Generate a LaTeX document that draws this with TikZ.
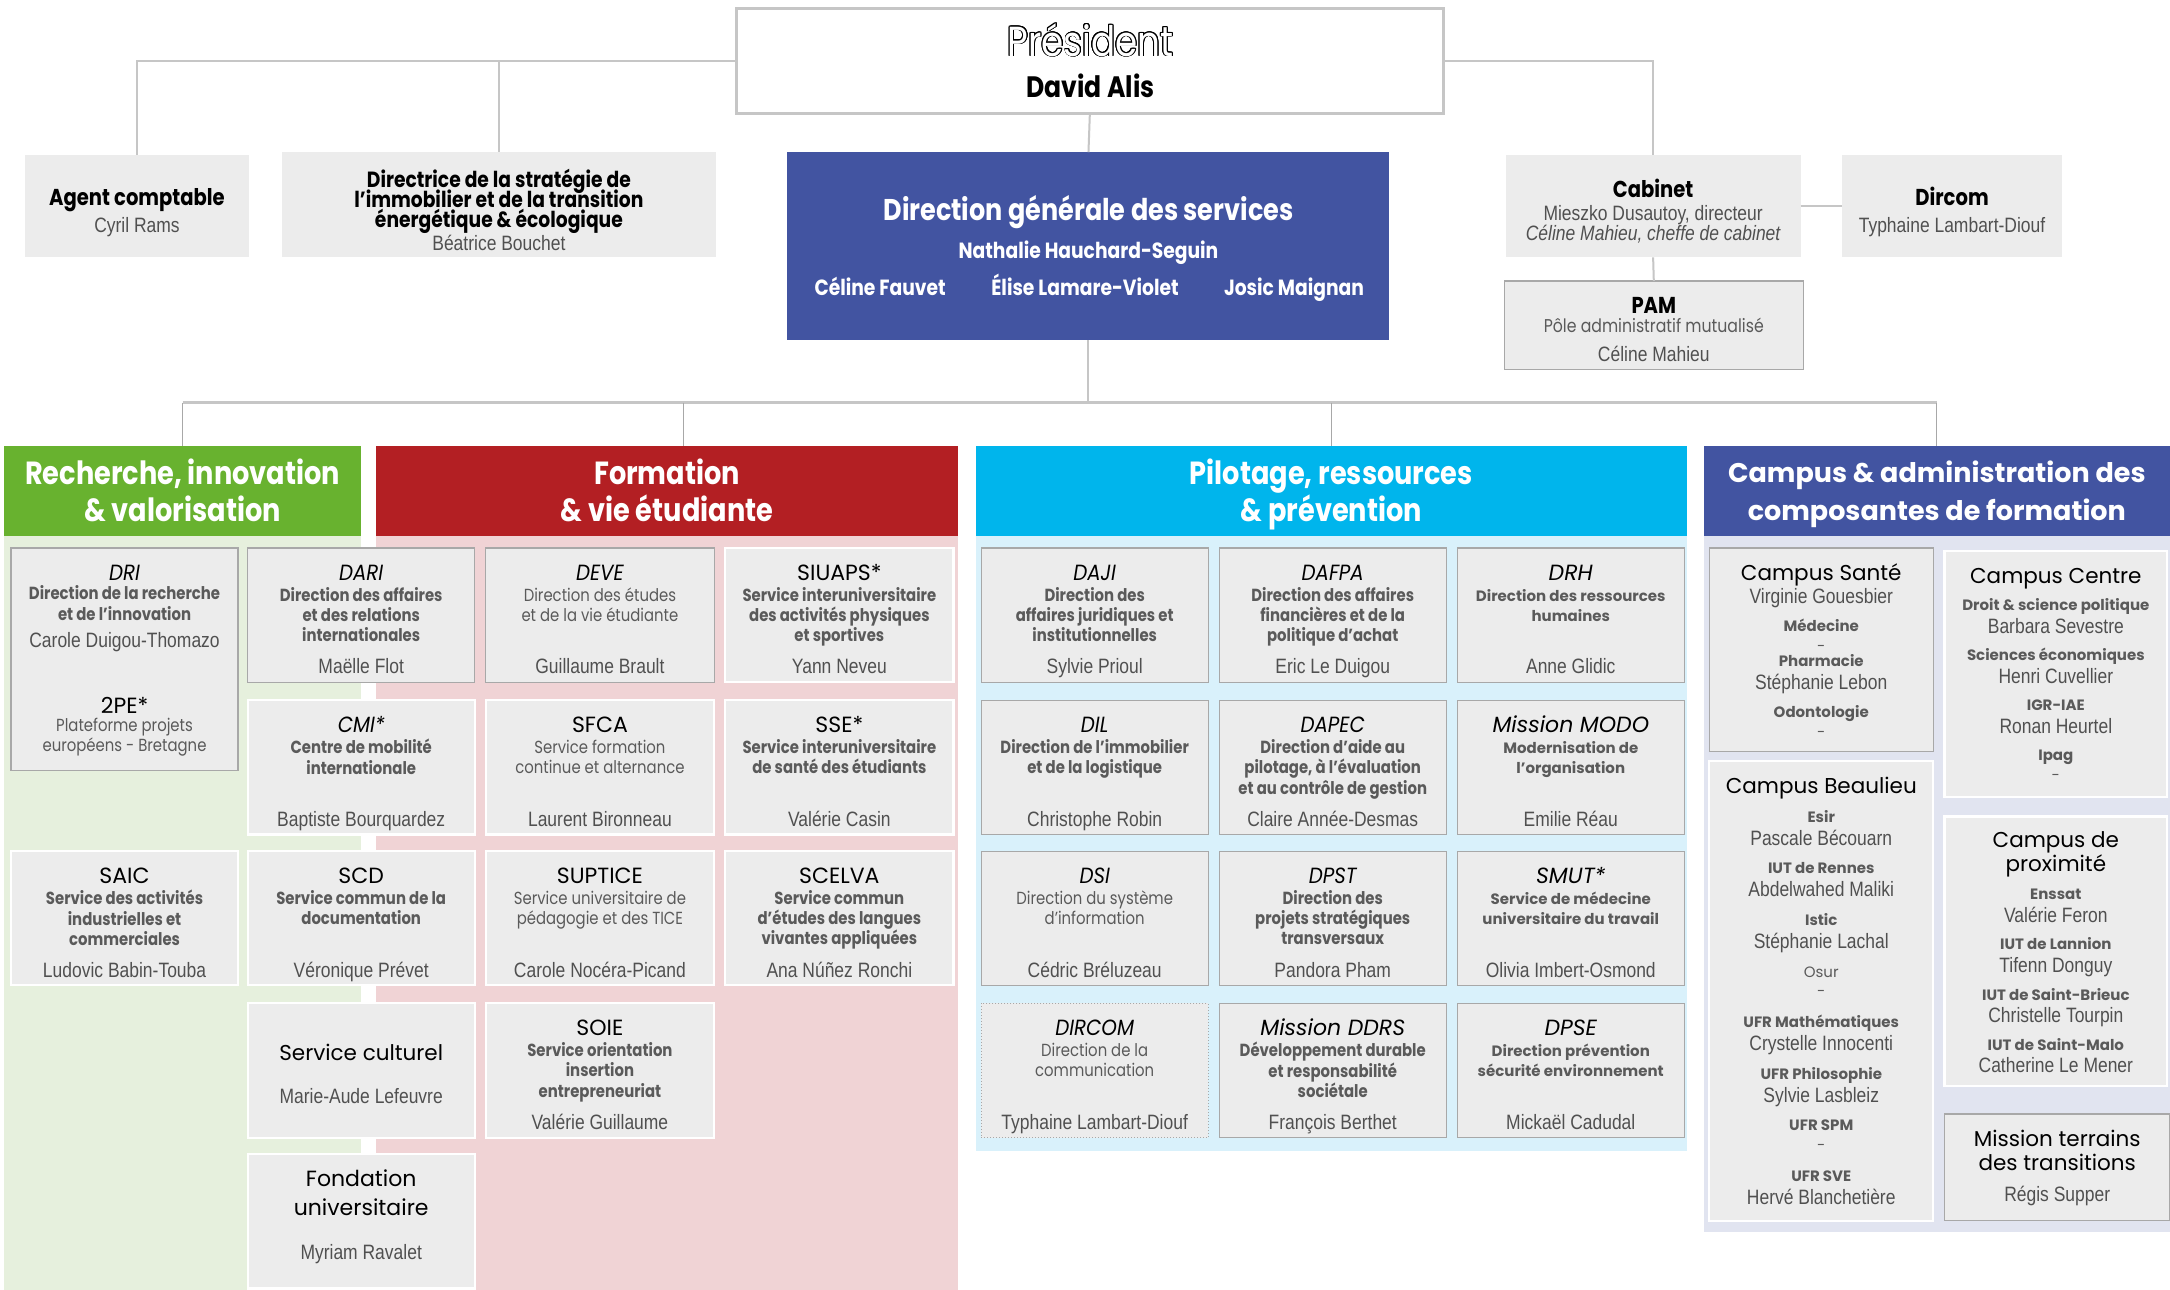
\documentclass[tikz,border=0pt]{standalone}
\usepackage{fontspec}
\usepackage[copies]{contour}
\usetikzlibrary{fit,calc}
\setmainfont{Poppins}
\newfontfamily\cond[FakeStretch=0.85]{Poppins}
\newfontfamily\condt[FakeStretch=0.9]{Poppins}
\newfontfamily\pop{Poppins}
\newfontfamily\narrowf[FakeStretch=0.84]{Liberation Sans}
\definecolor{gbox}{HTML}{ECECEC}
\definecolor{gline}{HTML}{A8A8A8}
\definecolor{connc}{HTML}{C6C6C6}
\definecolor{txtg}{HTML}{5A5A5A}
\definecolor{nmg}{HTML}{505050}
\definecolor{hgreen}{HTML}{68B22F}
\definecolor{lgreen}{HTML}{E6F0DD}
\definecolor{hred}{HTML}{B31F23}
\definecolor{lred}{HTML}{F0D3D5}
\definecolor{hcyan}{HTML}{00B5EC}
\definecolor{lcyan}{HTML}{D9F1FB}
\definecolor{hblue}{HTML}{4254A1}
\definecolor{lblue}{HTML}{E1E4F0}
\contourlength{0.8pt}
\newcommand\tightls{\lineskiplimit=-30pt\relax}
\newcommand\cnm{\narrowf\mdseries\fontsize{20.8}{20.8}\selectfont\color{nmg}}
\newcommand\orgbox[9]{%
  \node[#2, fit={(#3) (#4)}] (#1) {};
  \node[#5, anchor=base] (#1-t) at ($(#1.north)+(0,23.3)$) {#6};
  \node[#7, anchor=north] (#1-d) at ($(#1.north)+(0,28.2)$) {\strut #8};
  \node[nm, anchor=base] (#1-n) at ($(#1.south)+(0,-6)$) {#9};
}
\tikzset{
  every node/.style={inner sep=0pt, outer sep=0pt},
  bx/.style={rectangle, fill=gbox},
  bg/.style={bx, draw=gline, line width=1.2pt},
  bw/.style={bx, draw=white, line width=2.2pt},
  bd/.style={bx, draw=gline, line width=1pt, dotted},
  ti/.style={font=\condt\itshape\fontsize{22}{24}\selectfont, text=black},
  tu/.style={font=\pop\fontsize{22}{24}\selectfont, text=black},
  tpi/.style={font=\pop\itshape\fontsize{22}{24}\selectfont, text=black},
  tb/.style={font=\cond\bfseries\fontsize{23}{24}\selectfont, text=black},
  tl/.style={font=\pop\fontsize{21.5}{24}\selectfont, text=black},
  db/.style={align=center, font=\cond\bfseries\fontsize{17.5}{20.3}\selectfont\tightls, text=txtg},
  dr/.style={align=center, font=\cond\fontsize{17.5}{20.3}\selectfont\tightls, text=txtg},
  dpb/.style={align=center, font=\pop\bfseries\fontsize{15}{20.3}\selectfont\tightls, text=txtg},
  nm/.style={font=\narrowf\fontsize{20.8}{23}\selectfont, text=nmg},
  hdr/.style={align=center, text=white, font=\cond\bfseries\fontsize{32}{37.4}\selectfont\tightls},
  hdrb/.style={align=center, text=white, font=\pop\bfseries\fontsize{27}{37.4}\selectfont\tightls},
  ct/.style={align=center, text=black, font=\pop\fontsize{21.5}{23.5}\selectfont\tightls},
  cb/.style={align=center, text=txtg, font=\pop\bfseries\fontsize{15}{20.8}\selectfont\tightls},
  dgsn/.style={text=white, font=\cond\bfseries\fontsize{22}{24}\selectfont},
  conn/.style={draw=connc, line width=2pt},
  vconn/.style={draw=connc!85!black, line width=1.2pt},
  bus/.style={draw=connc, line width=3pt},
}
\begin{document}
\begin{tikzpicture}[x=1.3839pt, y=-1.3839pt]
\fill[white] (0,0) rectangle (1568,932);
\useasboundingbox (0,0) rectangle (1568,932);

% ---------- top ----------
\node[fill=white, draw=connc, line width=2.5pt, fit={(532,6) (1043,82)}] (pres) {};
\node[anchor=base, text=white, font=\cond\fontsize{42}{44}\selectfont] (pres-t) at (788,40.5) {\contour{black}{Président}};
\node[anchor=base, text=black, font=\cond\bfseries\fontsize{29.5}{30}\selectfont] (pres-n) at (788,70.5) {David Alis};

\node[bx, fit={(18,112) (180,186)}] (agent) {};
\node[tb, anchor=base] (agent-t) at (99,148.5) {Agent comptable};
\node[nm, anchor=base] (agent-n) at (99,168) {Cyril Rams};

\node[bx, fit={(204,110) (517,186)}] (dir) {};
\node[align=center, anchor=north, text=black, font=\cond\bfseries\fontsize{22}{20}\selectfont\tightls] (dir-t) at (360.5,122.2) {\strut Directrice de la stratégie de\\l’immobilier et de la transition\\énergétique \& écologique};
\node[nm, anchor=base] (dir-n) at (360.5,181) {Béatrice Bouchet};

\node[fill=hblue, fit={(569,110) (1004,246)}] (dgs) {};
\node[anchor=base, text=white, font=\cond\bfseries\fontsize{30}{32}\selectfont] (dgs-t) at (786.5,159.5) {Direction générale des services};
\node[dgsn, anchor=base] (dgs-n) at (786.5,186.5) {Nathalie Hauchard-Seguin};
\node[dgsn, anchor=base] (dgs-a) at (636,213.5) {Céline Fauvet};
\node[dgsn, anchor=base] (dgs-b) at (784,213.5) {Élise Lamare-Violet};
\node[dgsn, anchor=base] (dgs-c) at (935,213.5) {Josic Maignan};

\node[bx, fit={(1088,112) (1301,186)}] (cab) {};
\node[tb, anchor=base] (cab-t) at (1194.5,142.5) {Cabinet};
\node[nm, anchor=base] (cab-n) at (1194.5,159) {Mieszko Dusautoy, directeur};
\node[nm, anchor=base, font=\narrowf\itshape\fontsize{20.8}{23}\selectfont] (cab-m) at (1194.5,174) {Céline Mahieu, cheffe de cabinet};

\node[bx, fit={(1331,112) (1490,186)}] (dirc) {};
\node[tb, anchor=base] (dirc-t) at (1410.5,148.5) {Dircom};
\node[nm, anchor=base] (dirc-n) at (1410.5,168) {Typhaine Lambart-Diouf};

\node[bg, fit={(1087,203) (1303,267)}] (pam) {};
\node[tb, anchor=base] (pam-t) at (1195,226.5) {PAM};
\node[anchor=base, text=txtg, font=\cond\fontsize{18.5}{20}\selectfont] (pam-d) at (1195,240) {Pôle administratif mutualisé};
\node[nm, anchor=base] (pam-n) at (1195,261) {Céline Mahieu};

% ---------- panels ----------
\node[fill=lgreen, fit={(3,387) (261,932)}] (pg) {};
\node[fill=lred, fit={(272,387) (692,932)}] (pr) {};
\node[fill=lcyan, fit={(705,387) (1219,832)}] (pc) {};
\node[fill=lblue, fit={(1231,387) (1568,890)}] (pb) {};
\node[fill=hgreen, fit={(3,322) (261,387)}] (hg) {};
\node[fill=hred, fit={(272,322) (692,387)}] (hr) {};
\node[fill=hcyan, fit={(705,322) (1219,387)}] (hc) {};
\node[fill=hblue, fit={(1231,322) (1568,387)}] (hb) {};
\node[hdr, anchor=north] (hg-t) at (132,331.2) {\strut Recherche, innovation\\\& valorisation};
\node[hdr, anchor=north] (hr-t) at (482,331.2) {\strut Formation\\\& vie étudiante};
\node[hdr, anchor=north] (hc-t) at (962,331.2) {\strut Pilotage, ressources\\\& prévention};
\node[hdrb, anchor=north] (hb-t) at (1399.5,329.9) {\strut Campus \& administration des\\composantes de formation};

% ---------- connectors ----------
\draw[conn] (pres.west) -| (agent.north);
\draw[conn] (pres.west) -| (dir.north);
\draw[conn] (pres.east) -| (cab.north);
\draw[conn] (pres.south) -- (dgs.north);
\draw[conn] (cab.east) -- (dirc.west);
\draw[conn] (cab.south) -- (pam.north);
\coordinate (busc) at ($(dgs.south)+(0,45)$);
\coordinate (hrc) at ($(hr.north)+(12,0)$);
\draw[conn] (dgs.south) -- (busc);
\draw[bus] (hg.north |- busc) -- (hb.north |- busc);
\draw[vconn] (hg.north |- busc) -- (hg.north);
\draw[vconn] (hrc |- busc) -- (hrc);
\draw[vconn] (hc.north |- busc) -- (hc.north);
\draw[vconn] (hb.north |- busc) -- (hb.north);

% ---------- column 1 ----------
\node[bg, fit={(8,396) (172,557)}] (dri) {};
\node[ti, anchor=base] (dri-t) at ($(dri.north)+(0,23.3)$) {DRI};
\node[db, anchor=north] (dri-d) at ($(dri.north)+(0,27.2)$) {\strut Direction de la recherche\\et de l’innovation};
\node[nm, anchor=base] (dri-n) at ($(dri.north)+(0,72)$) {Carole Duigou-Thomazo};
\node[tu, anchor=base] (pe-t) at ($(dri.north)+(0,119.3)$) {2PE*};
\node[dr, anchor=north] (pe-d) at ($(dri.north)+(0,122.2)$) {\strut Plateforme projets\\européens - Bretagne};
\orgbox{saic}{bw}{8,615}{172,712}{tu}{SAIC}{db}{Service des activités\\industrielles et\\commerciales}{Ludovic Babin-Touba}

% ---------- column 2 ----------
\orgbox{dari}{bg}{179,396}{343,493}{ti}{DARI}{db}{Direction des affaires\\et des relations\\internationales}{Maëlle Flot}
\orgbox{cmi}{bw}{179,506}{343,603}{ti}{CMI*}{db}{Centre de mobilité\\internationale}{Baptiste Bourquardez}
\orgbox{scd}{bw}{179,615}{343,712}{tu}{SCD}{db}{Service commun de la\\documentation}{Véronique Prévet}
\node[bw, fit={(179,725) (343,822)}] (cult) {};
\node[tl, anchor=base] (cult-t) at ($(cult.north)+(0,41.3)$) {Service culturel};
\node[nm, anchor=base] (cult-n) at ($(cult.south)+(0,-25)$) {Marie-Aude Lefeuvre};
\node[bw, fit={(179,834) (343,931)}] (fond) {};
\node[align=center, anchor=north, text=black, font=\pop\fontsize{22}{29}\selectfont\tightls] (fond-t) at ($(fond.north)+(0,8.9)$) {\strut Fondation\\universitaire};
\node[nm, anchor=base] (fond-n) at ($(fond.south)+(0,-21)$) {Myriam Ravalet};

% ---------- column 3 ----------
\orgbox{deve}{bg}{351,396}{516,493}{ti}{DEVE}{dr}{Direction des études\\et de la vie étudiante}{Guillaume Brault}
\orgbox{sfca}{bw}{351,506}{516,603}{tu}{SFCA}{dr}{Service formation\\continue et alternance}{Laurent Bironneau}
\orgbox{suptice}{bw}{351,615}{516,712}{tu}{SUPTICE}{dr}{Service universitaire de\\pédagogie et des TICE}{Carole Nocéra-Picand}
\orgbox{soie}{bw}{351,725}{516,822}{tu}{SOIE}{db}{Service orientation\\insertion\\entrepreneuriat}{Valérie Guillaume}

% ---------- column 4 ----------
\orgbox{siuaps}{bw}{524,396}{689,493}{tu}{SIUAPS*}{db}{Service interuniversitaire\\des activités physiques\\et sportives}{Yann Neveu}
\orgbox{sse}{bw}{524,506}{689,603}{tu}{SSE*}{db}{Service interuniversitaire\\de santé des étudiants}{Valérie Casin}
\orgbox{scelva}{bw}{524,615}{689,712}{tu}{SCELVA}{db}{Service commun\\d’études des langues\\vivantes appliquées}{Ana Núñez Ronchi}

% ---------- column 5 ----------
\orgbox{daji}{bg}{709,396}{873,493}{ti}{DAJI}{db}{Direction des\\affaires juridiques et\\institutionnelles}{Sylvie Prioul}
\orgbox{dil}{bg}{709,506}{873,603}{ti}{DIL}{db}{Direction de l’immobilier\\et de la logistique}{Christophe Robin}
\orgbox{dsi}{bg}{709,615}{873,712}{ti}{DSI}{dr}{Direction du système\\d’information}{Cédric Bréluzeau}
\orgbox{dircom}{bd}{709,725}{873,822}{ti}{DIRCOM}{dr}{Direction de la\\communication}{Typhaine Lambart-Diouf}

% ---------- column 6 ----------
\orgbox{dafpa}{bg}{881,396}{1045,493}{ti}{DAFPA}{db}{Direction des affaires\\financières et de la\\politique d’achat}{Eric Le Duigou}
\orgbox{dapec}{bg}{881,506}{1045,603}{ti}{DAPEC}{db}{Direction d’aide au\\pilotage, à l’évaluation\\et au contrôle de gestion}{Claire Année-Desmas}
\orgbox{dpst}{bg}{881,615}{1045,712}{ti}{DPST}{db}{Direction des\\projets stratégiques\\transversaux}{Pandora Pham}
\orgbox{ddrs}{bg}{881,725}{1045,822}{tpi}{Mission DDRS}{db}{Développement durable\\et responsabilité\\sociétale}{François Berthet}

% ---------- column 7 ----------
\orgbox{drh}{bg}{1053,396}{1217,493}{tpi}{DRH}{dpb}{Direction des ressources\\humaines}{Anne Glidic}
\orgbox{modo}{bg}{1053,506}{1217,603}{tpi}{Mission MODO}{dpb}{Modernisation de\\l’organisation}{Emilie Réau}
\orgbox{smut}{bg}{1053,615}{1217,712}{tpi}{SMUT*}{dpb}{Service de médecine\\universitaire du travail}{Olivia Imbert-Osmond}
\orgbox{dpse}{bg}{1053,725}{1217,822}{tpi}{DPSE}{dpb}{Direction prévention\\sécurité environnement}{Mickaël Cadudal}

% ---------- campus ----------
\node[bg, fit={(1235,396) (1397,543)}] (sante) {};
\node[ct, anchor=base] (sante-t) at (1316,419.5) {Campus Santé};
\node[cb, anchor=north] (sante-d) at (1316,425.5) {\strut{\cnm Virginie Gouesbier}\\[7pt]Médecine\\[-1pt]{\mdseries -}\\[-5.4pt]Pharmacie\\[2pt]{\cnm Stéphanie Lebon}\\[7pt]Odontologie\\[-1pt]{\mdseries -}};

\node[bw, fit={(1235,550) (1397,882)}] (beau) {};
\node[ct, anchor=base] (beau-t) at (1316,573.5) {Campus Beaulieu};
\node[cb, anchor=north] (beau-d) at (1316,583.7) {\strut Esir\\[2pt]{\cnm Pascale Bécouarn}\\[8pt]IUT de Rennes\\[2pt]{\cnm Abdelwahed Maliki}\\[8pt]Istic\\[2pt]{\cnm Stéphanie Lachal}\\[8pt]{\mdseries Osur}\\[-1pt]{\mdseries -}\\[10pt]UFR Mathématiques\\[2pt]{\cnm Crystelle Innocenti}\\[8pt]UFR Philosophie\\[2pt]{\cnm Sylvie Lasbleiz}\\[8pt]UFR SPM\\[-1pt]{\mdseries -}\\[10pt]UFR SVE\\[2pt]{\cnm Hervé Blanchetière}};

\node[bw, fit={(1405,398) (1566,576)}] (centre) {};
\node[ct, anchor=base] (centre-t) at (1485.5,421.5) {Campus Centre};
\node[cb, anchor=north] (centre-d) at (1485.5,430.7) {\strut Droit \& science politique\\[2pt]{\cnm Barbara Sevestre}\\[6.5pt]Sciences économiques\\[2pt]{\cnm Henri Cuvellier}\\[6.5pt]IGR-IAE\\[2pt]{\cnm Ronan Heurtel}\\[6.5pt]Ipag\\[-1pt]{\mdseries -}};

\node[bw, fit={(1405,590) (1566,785)}] (prox) {};
\node[ct, anchor=north] (prox-t) at (1485.5,600.6) {\strut Campus de\\proximité};
\node[cb, anchor=north] (prox-d) at (1485.5,639.7) {\strut Enssat\\[2pt]{\cnm Valérie Feron}\\[6.5pt]IUT de Lannion\\[2pt]{\cnm Tifenn Donguy}\\[6.5pt]IUT de Saint-Brieuc\\[2pt]{\cnm Christelle Tourpin}\\[6.5pt]IUT de Saint-Malo\\[2pt]{\cnm Catherine Le Mener}};

\node[bg, fit={(1405,805) (1568,882)}] (mtt) {};
\node[ct, anchor=north] (mtt-t) at (1486.5,816.6) {\strut Mission terrains\\des transitions};
\node[nm, anchor=base] (mtt-n) at (1486.5,868) {Régis Supper};
\end{tikzpicture}
\end{document}
